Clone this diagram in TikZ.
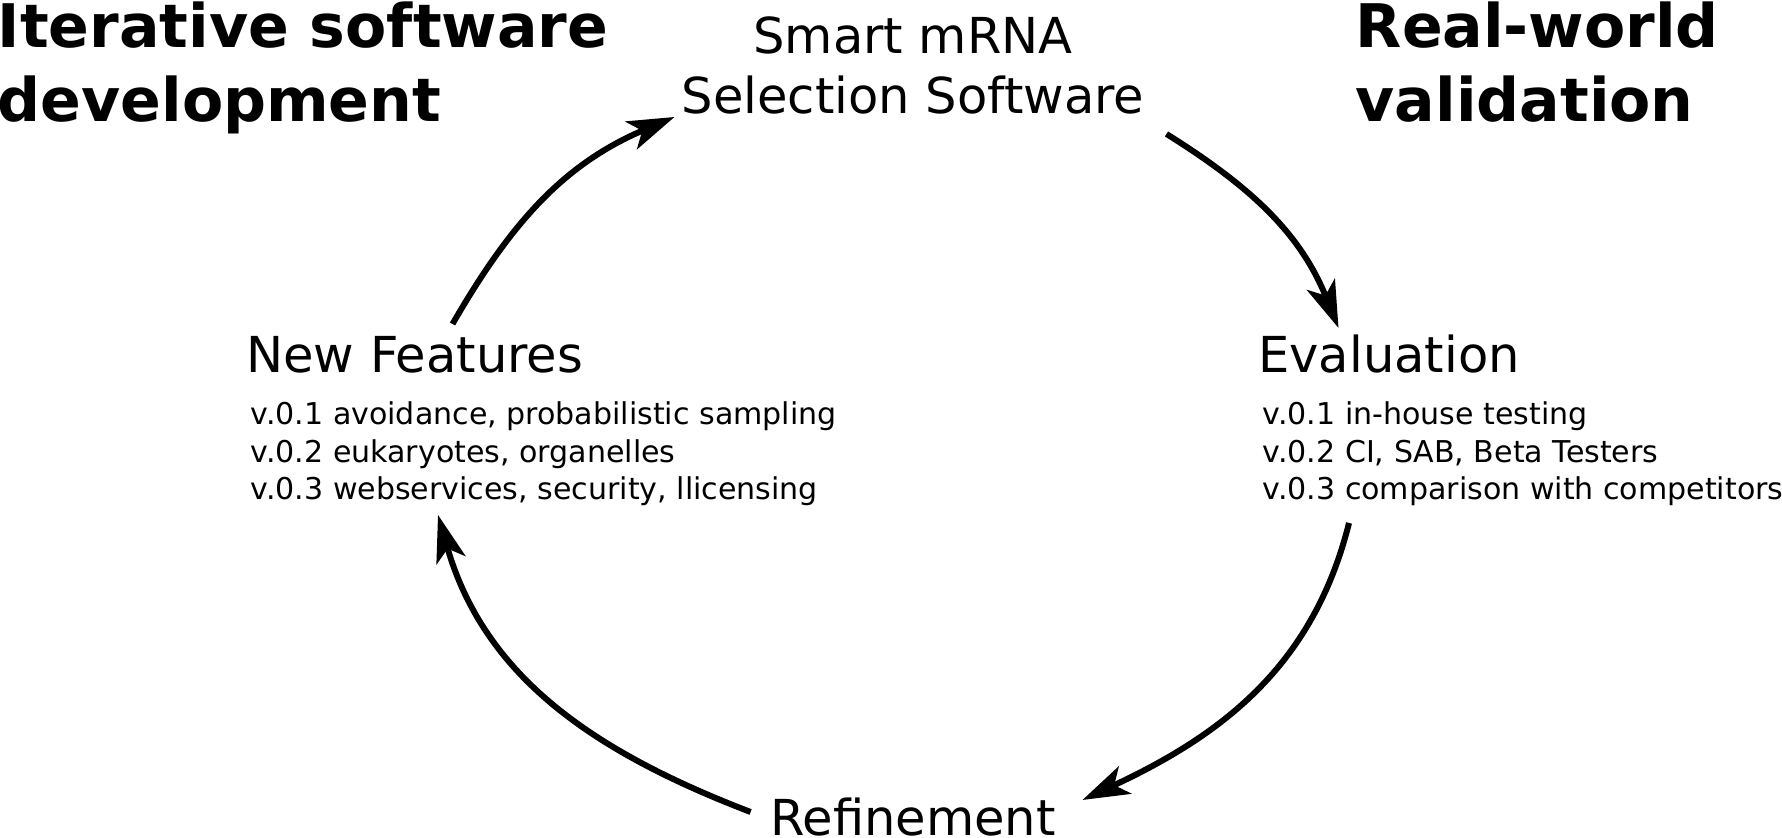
\documentclass[tikz,border=0pt]{standalone}
\usepackage{fontspec}
\setmainfont{DejaVu Sans}
\usetikzlibrary{calc, arrows.meta}

\tikzset{
  heading/.style = {inner sep = 0pt, align = left, font = \bfseries\fontsize{17.1}{21.3}\selectfont},
  phase/.style = {inner sep = 0pt, font = \fontsize{14.1}{17.1}\selectfont},
  detail/.style = {inner sep = 0pt, align = left, font = \fontsize{8.55}{10.67}\selectfont},
  cycle arrow/.style = {line width = 1.7pt, -{Stealth[length = 4.7mm, width = 3.0mm, inset = 1.2mm]}}
}

\begin{document}
\begin{tikzpicture}
    \useasboundingbox (0,0) rectangle (17.82,8.38);
    \node[
    heading,
    anchor = base west
    ] (devtitle) at (-0.03,7.16){Iterative software\\development};
    \node[
    heading,
    anchor = base west
    ] (valtitle) at (13.55,7.16){Real-world\\validation};
    \node[
    phase,
    align = center,
    anchor = south
    ] (sms) at (9.13,7.23){Smart mRNA\\Selection Software};
    \node[
    phase,
    anchor = base west
    ] (nf) at (2.455,4.65){New Features};
    \node[
    detail,
    anchor = base west
    ] (nflist) at (2.50,3.38){v.0.1 avoidance, probabilistic sampling\\v.0.2 eukaryotes, organelles\\v.0.3 webservices, security, llicensing};
    \node[
    phase,
    anchor = base west
    ] (eval) at (12.575,4.65){Evaluation};
    \node[
    detail,
    anchor = base west
    ] (evallist) at (12.62,3.38){v.0.1 in-house testing\\v.0.2 CI, SAB, Beta Testers\\v.0.3 comparison with competitors};
    \node[
    phase,
    anchor = base
    ] (refine) at (9.13,0.02){Refinement};
    \draw[cycle arrow] ($(nf.base west) + (2.07,0.49)$) to[out = 60, in = 203] ($(sms.south west) + (-0.065,-0.02)$);
    \draw[cycle arrow] ($(sms.south east) + (0.215,-0.19)$) to[out = -32, in = 112] ($(eval.base west) + (0.81,0.45)$);
    \draw[cycle arrow] ($(evallist.south west) + (0.87,-0.16)$) to[out = 256, in = 25] ($(refine.base east) + (0.26,0.36)$);
    \draw[cycle arrow] ($(refine.base west) + (-0.19,0.24)$) to[out = 159, in = 286] ($(nflist.south west) + (1.88,-0.08)$);
  \end{tikzpicture}
\end{document}
